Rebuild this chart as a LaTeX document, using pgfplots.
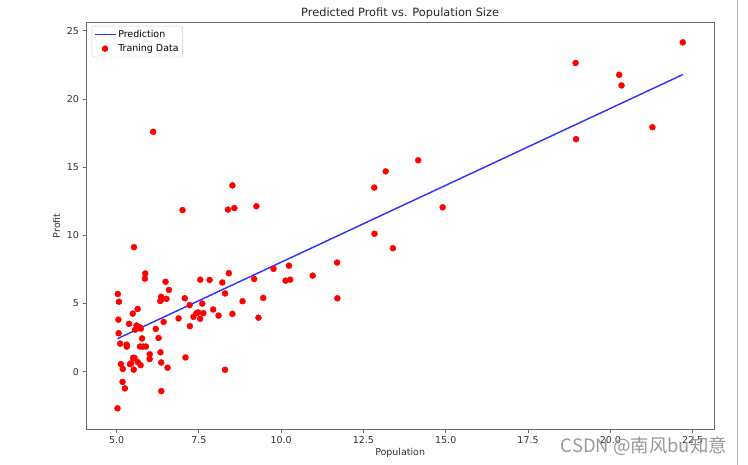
\documentclass[border=0pt]{standalone}
\usepackage{fontspec}
\setmainfont{DejaVu Sans}
\newfontfamily\cjk{Noto Sans CJK SC}
\usepackage{pgfplots}
\pgfplotsset{compat=1.18}
\definecolor{predblue}{RGB}{45,45,255}
\definecolor{spine}{RGB}{105,105,105}
\definecolor{ticktext}{RGB}{50,50,50}

\begin{document}
\begin{tikzpicture}
\useasboundingbox (0bp,0bp) rectangle (748bp,465bp);
\fill[white] (0bp,0bp) rectangle (748bp,465bp);
\draw[black!30, line width=1bp] (737.5bp,0bp) -- (737.5bp,465bp);
\begin{axis}[
  at={(86bp,35.7bp)}, anchor=south west,
  scale only axis,
  width=628.3bp, height=407bp,
  xmin=4.07, xmax=23.16,
  ymin=-4.22, ymax=25.62,
  xtick={5,7.5,10,12.5,15,17.5,20,22.5},
  ytick={0,5,10,15,20,25},
  axis line style={spine, line width=0.8bp},
  tick style={spine, line width=0.8bp},
  tick align=outside,
  major tick length=3.5bp,
  xtick pos=bottom, ytick pos=left,
  /pgf/number format/assume math mode=true,
  ticklabel style={font=\fontsize{9.5}{11}\selectfont, text=ticktext},
  xticklabel style={/pgf/number format/.cd, fixed, fixed zerofill, precision=1},
  yticklabel style={/pgf/number format/.cd, fixed, precision=0},
  xlabel={Population},
  ylabel={Profit},
  xlabel style={font=\fontsize{9.5}{11}\selectfont, text=ticktext, at={(axis description cs:0.5,-0.0639)}, anchor=base},
  ylabel style={font=\fontsize{9.5}{11}\selectfont, text=ticktext, at={(axis description cs:-0.0411,0.5)}, anchor=base},
  title={Predicted Profit vs. Population Size},
  every axis title/.style={font=\fontsize{11.4}{13}\selectfont, text=black!85, at={(axis description cs:0.5,1)}, anchor=base, yshift=5.7bp},
  legend style={at={(axis description cs:0.009,0.991)}, anchor=north west,
    draw=black!20, rounded corners=2bp, fill=white, fill opacity=0.8, text opacity=1,
    font=\fontsize{9.5}{11}\selectfont, inner xsep=2bp, inner ysep=2bp,
    row sep=1.5bp},
  legend cell align=left,
]
\addplot[predblue, line width=1.4bp,
  legend image code/.code={\draw[predblue, line width=1.4bp, draw opacity=1] (0bp,0bp) -- (21bp,0bp);}]
  coordinates {(5.0269,2.4254) (22.203,21.7879)};
\addlegendentry{Prediction}
\addplot[only marks, mark=*, mark size=3bp, color=red, mark options={draw=red, fill=red},
  legend image code/.code={\draw[only marks, mark=*, mark size=3bp, red, mark options={fill=red, fill opacity=1, draw opacity=1}] plot coordinates {(10.5bp,0bp)};}]
  coordinates {
(6.1101,17.592) (5.5277,9.1302) (8.5186,13.662) (7.0032,11.854) (5.8598,6.8233)
(8.3829,11.886) (7.4764,4.3483) (8.5781,12) (6.4862,6.5987) (5.0546,3.8166)
(5.7107,3.2522) (14.164,15.505) (5.734,3.1551) (8.4084,7.2258) (5.6407,0.71618)
(5.3794,3.5129) (6.3654,5.3048) (5.1301,0.56077) (6.4296,3.6518) (7.0708,5.3893)
(6.1891,3.1386) (20.27,21.767) (5.4901,4.263) (6.3261,5.1875) (5.5649,3.0825)
(18.945,22.638) (12.828,13.501) (10.957,7.0467) (13.176,14.692) (22.203,24.147)
(5.2524,-1.22) (6.5894,5.9966) (9.2482,12.134) (5.8918,1.8495) (8.2111,6.5426)
(7.9334,4.5623) (8.0959,4.1164) (5.6063,3.3928) (12.836,10.117) (6.3534,5.4974)
(5.4069,0.55657) (6.8825,3.9115) (11.708,5.3854) (5.7737,2.4406) (7.8247,6.7318)
(7.0931,1.0463) (5.0702,5.1337) (5.8014,1.844) (11.7,8.0043) (5.5416,1.0179)
(7.5402,6.7504) (5.3077,1.8396) (7.4239,4.2885) (7.6031,4.9981) (6.3328,1.4233)
(6.3589,-1.4211) (6.2742,2.4756) (5.6397,4.6042) (9.3102,3.9624) (9.4536,5.4141)
(8.8254,5.1694) (5.1793,-0.74279) (21.279,17.929) (14.908,12.054) (18.959,17.054)
(7.2182,4.8852) (8.2951,5.7442) (10.236,7.7754) (5.4994,1.0173) (20.341,20.992)
(10.136,6.6799) (7.3345,4.0259) (6.0062,1.2784) (7.2259,3.3411) (5.0269,-2.6807)
(6.5479,0.29678) (7.5386,3.8845) (5.0365,5.7014) (10.274,6.7526) (5.1077,2.0576)
(5.7292,0.47953) (5.1884,0.20421) (6.3557,0.67861) (9.7687,7.5435) (6.5159,5.3436)
(8.5172,4.2415) (9.1802,6.7981) (6.002,0.92695) (5.5204,0.152) (5.0594,2.8214)
(5.7077,1.8451) (7.6366,4.2959) (5.8707,7.2029) (5.3054,1.9869) (8.2934,0.14454)
(13.394,9.0551) (5.4369,0.61705)
};
\addlegendentry{Traning Data}
\end{axis}
\node[anchor=base west, text=black!40, font=\cjk\fontsize{18.5}{19}\selectfont, inner sep=0pt] at (560.7bp,12.5bp) {CSDN @南风bu知意};
\end{tikzpicture}
\end{document}
